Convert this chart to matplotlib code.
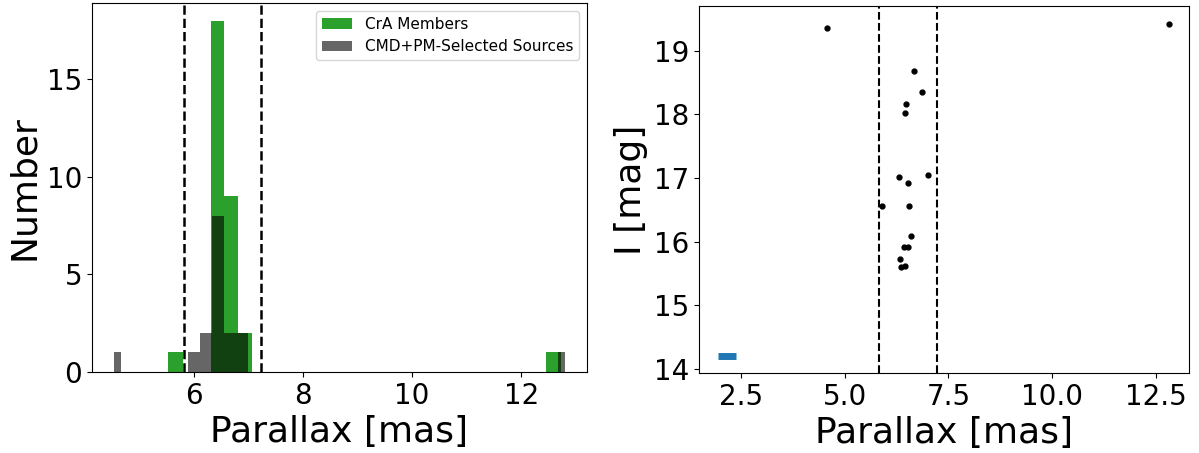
import numpy as np
import matplotlib
matplotlib.use("Agg")
import matplotlib.pyplot as plt

# ─────────────────────────────────────────────
# DATA
# ─────────────────────────────────────────────
# CrA members histogram: bin lower/upper edges and counts
MEM_LO    = [5.54, 6.31, 6.56, 6.82, 12.46]
MEM_HI    = [5.80, 6.56, 6.82, 7.07, 12.72]
MEM_COUNT = [1, 18, 9, 2, 1]

# CMD+PM selected sources histogram
SEL_LO    = [4.55, 5.90, 6.12, 6.34, 6.56, 12.67]
SEL_HI    = [4.68, 6.12, 6.34, 6.56, 7.00, 12.79]
SEL_COUNT = [1, 1, 2, 8, 2, 1]

# parallax cut
PLX_CUT = [5.82, 7.23]

# selected sources: parallax vs I magnitude
SRC_PLX = [4.58, 12.81, 6.66, 6.86, 6.47, 6.45, 6.30, 7.02, 6.53, 5.90,
           6.56, 6.61, 6.42, 6.53, 6.34, 6.36, 6.45]
SRC_IMAG = [19.36, 19.42, 18.68, 18.35, 18.16, 18.02, 17.01, 17.04, 16.92, 16.56,
            16.56, 16.09, 15.92, 15.92, 15.73, 15.61, 15.62]

# typical parallax error bar
ERR_PLX, ERR_IMAG, ERR_XERR = 2.16, 14.2, 0.21

# ─────────────────────────────────────────────
# FIGURE
# ─────────────────────────────────────────────
fig = plt.figure(figsize=(11.99, 4.53), dpi=100)

# ── Left: parallax histograms
ax1 = fig.add_axes([0.0767, 0.1788, 0.4128, 0.8146])
lo, hi = np.array(MEM_LO), np.array(MEM_HI)
ax1.bar(lo, MEM_COUNT, width=hi - lo, align="edge",
        color="#2ca02c", label="CrA Members")
lo, hi = np.array(SEL_LO), np.array(SEL_HI)
ax1.bar(lo, SEL_COUNT, width=hi - lo, align="edge",
        color="black", alpha=0.6, label="CMD+PM-Selected Sources")
for v in PLX_CUT:
    ax1.axvline(v, color="black", ls="--", lw=1.8)

ax1.set_xlim(4.14, 13.2)
ax1.set_ylim(0, 18.9)
ax1.set_xticks([6, 8, 10, 12])
ax1.set_yticks([0, 5, 10, 15])
ax1.tick_params(labelsize=20)
ax1.set_xlabel("Parallax [mas]", fontsize=26)
ax1.set_ylabel("Number", fontsize=26)
ax1.legend(loc="upper right", fontsize=11)

# ── Right: parallax vs I mag
ax2 = fig.add_axes([0.583, 0.1766, 0.4087, 0.8102])
ax2.plot(SRC_PLX, SRC_IMAG, "k.", ms=7)
ax2.errorbar(ERR_PLX, ERR_IMAG, xerr=ERR_XERR, fmt="none",
             ecolor="#1f77b4", elinewidth=5)
for v in PLX_CUT:
    ax2.axvline(v, color="black", ls="--", lw=1.5)

ax2.set_xlim(1.49, 13.3)
ax2.set_ylim(13.94, 19.7)
ax2.set_xticks([2.5, 5.0, 7.5, 10.0, 12.5])
ax2.set_yticks([14, 15, 16, 17, 18, 19])
ax2.tick_params(labelsize=20)
ax2.set_xlabel("Parallax [mas]", fontsize=26)
ax2.set_ylabel("I [mag]", fontsize=26)

fig.savefig("out.png", dpi=100)
